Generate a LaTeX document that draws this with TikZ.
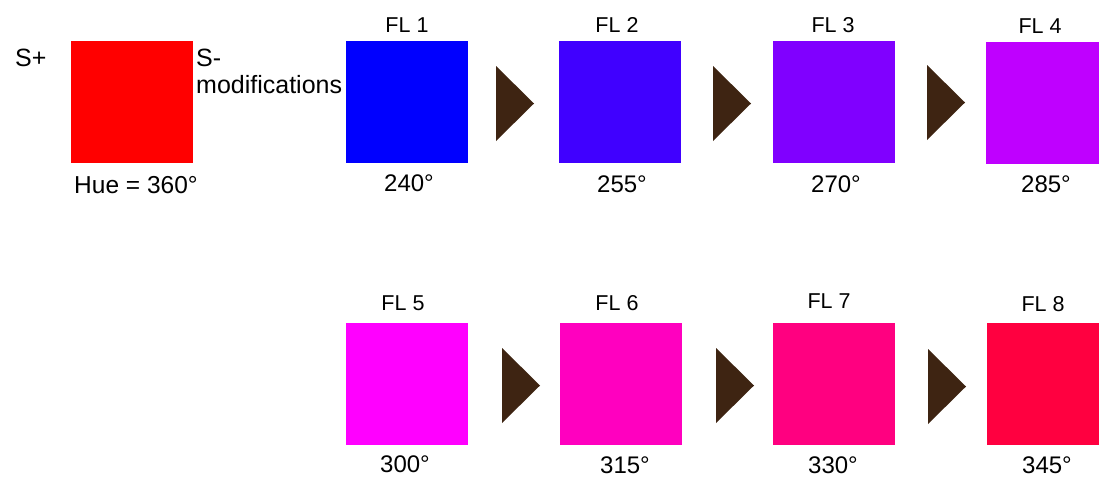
\documentclass[tikz,border=0pt]{standalone}
\usepackage{fontspec}
\setmainfont{Liberation Sans}
\begin{document}
\begin{tikzpicture}[x=1pt,y=-1pt,
  sq/.style={rectangle, minimum size=122pt, inner sep=0pt, outer sep=0pt, anchor=north west},
  fl/.style={anchor=base, inner sep=0pt, font=\fontsize{21.5}{25}\selectfont},
  deg/.style={anchor=base, inner sep=0pt, font=\fontsize{24}{28}\selectfont},
  lbl/.style={anchor=base west, inner sep=0pt, font=\fontsize{25}{29}\selectfont},
  tri/.style={fill=arrbrown}]
\definecolor{arrbrown}{HTML}{3E2412}
\definecolor{c360}{HTML}{FF0000}
\definecolor{c240}{HTML}{0000FF}
\definecolor{c255}{HTML}{4000FF}
\definecolor{c270}{HTML}{8000FF}
\definecolor{c285}{HTML}{BF00FF}
\definecolor{c300}{HTML}{FF00FF}
\definecolor{c315}{HTML}{FF00BF}
\definecolor{c330}{HTML}{FF0080}
\definecolor{c345}{HTML}{FF0040}
\useasboundingbox (0,0) rectangle (1099,477);

% reference square
\node[sq, fill=c360] (red) at (71,41) {};
\node[lbl] (splus) at (15,66) {S+};
\node[lbl] (sminus) at (196,66) {S-};
\node[lbl] (modif) at (196,93) {modifications};
\node[lbl, font=\fontsize{24.5}{28}\selectfont] (hue) at (74,193) {Hue = 360°};

% row 1
\node[sq, fill=c240] (fl1) at (346,41) {};
\node[sq, fill=c255] (fl2) at (559,41) {};
\node[sq, fill=c270] (fl3) at (773,41) {};
\node[sq, fill=c285, minimum width=113pt] (fl4) at (986,42) {};
\node[fl] (t1) at (407,32) {FL 1};
\node[fl] (t2) at (617,32) {FL 2};
\node[fl] (t3) at (833,32) {FL 3};
\node[fl] (t4) at (1040,33) {FL 4};
\node[deg] (d1) at (409,191) {240°};
\node[deg] (d2) at (622,192) {255°};
\node[deg] (d3) at (836,192) {270°};
\node[deg] (d4) at (1046,192) {285°};

% row 2
\node[sq, fill=c300] (fl5) at (346,323) {};
\node[sq, fill=c315] (fl6) at (560,323) {};
\node[sq, fill=c330] (fl7) at (773,323) {};
\node[sq, fill=c345, minimum width=113pt] (fl8) at (987,323) {};
\node[fl] (t5) at (403,310) {FL 5};
\node[fl] (t6) at (617,310) {FL 6};
\node[fl] (t7) at (829,308) {FL 7};
\node[fl] (t8) at (1043,311) {FL 8};
\node[deg] (d5) at (405,472) {300°};
\node[deg] (d6) at (625,473) {315°};
\node[deg] (d7) at (833,473) {330°};
\node[deg] (d8) at (1047,473) {345°};

% triangles
\fill[tri] (496,66) -- (534,103.5) -- (496,141) -- cycle;
\fill[tri] (713,66) -- (751,103.5) -- (713,141) -- cycle;
\fill[tri] (927,65) -- (965,102.5) -- (927,140) -- cycle;
\fill[tri] (502,348) -- (540,385.5) -- (502,423) -- cycle;
\fill[tri] (716,348) -- (754,385.5) -- (716,423) -- cycle;
\fill[tri] (928,349) -- (966,386.5) -- (928,424) -- cycle;
\end{tikzpicture}
\end{document}
